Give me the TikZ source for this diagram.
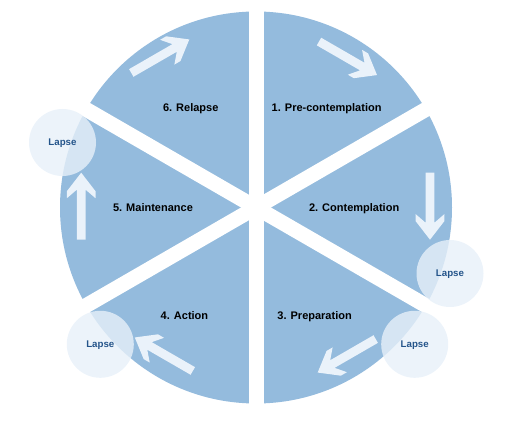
\documentclass[tikz,border=0pt]{standalone}
\usepackage{fontspec}
\setmainfont{Liberation Sans}
\definecolor{sectorc}{RGB}{148,187,221}
\definecolor{flowc}{RGB}{234,242,250}
\definecolor{lapsefill}{RGB}{231,240,249}
\definecolor{lapsetext}{RGB}{36,84,138}
\begin{document}
\begin{tikzpicture}[x=1pt,y=-1pt,
  stage/.style={anchor=base west, inner sep=0pt, font=\fontsize{11}{13}\selectfont\bfseries, text=black},
  lapse/.style={circle, minimum size=67pt, inner sep=0pt, text depth=0pt, fill=lapsefill, fill opacity=0.8, text opacity=1, text=lapsetext, font=\fontsize{9.7}{11}\selectfont\bfseries},
  gapline/.style={draw=white, line width=15pt},
  flow/.pic={\fill[flowc] (-33.5,-4.4) -- (16.5,-4.4) -- (8,-14.3) -- (15,-14.3) -- (33.5,0) -- (15,14.3) -- (8,14.3) -- (16.5,4.4) -- (-33.5,4.4) -- cycle;}
]
\useasboundingbox (0,0) rectangle (512,425);
% wheel
\coordinate (c) at (256,207.5);
\fill[sectorc] (c) circle[radius=196pt];
% gaps between the six sectors
\draw[gapline] (256,-20) -- (256,440);
\draw[gapline] (446.5,97.5) -- (65.5,317.5);
\draw[gapline] (446.5,317.5) -- (65.5,97.5);
% flow arrows
\pic[rotate=30] at (160.3,56.2) {flow};
\pic[rotate=-30] at (348,58.3) {flow};
\pic[rotate=-90] at (430,206.2) {flow};
\pic[rotate=-150] at (346.7,355.8) {flow};
\pic[rotate=150] at (163.8,354.2) {flow};
\pic[rotate=90] at (81.2,206.2) {flow};
% stage labels
\node[stage] (s1) at (271.5,112) {1. Pre-contemplation};
\node[stage] (s2) at (308.8,211.2) {2. Contemplation};
\node[stage] (s3) at (277.2,319.7) {3. Preparation};
\node[stage] (s4) at (160.5,319.7) {4. Action};
\node[stage] (s5) at (112.8,211.2) {5. Maintenance};
\node[stage] (s6) at (162.8,112) {6. Relapse};
% lapse circles
\node[lapse] (l1) at (62.5,142.5) {Lapse};
\node[lapse] (l2) at (450,273.5) {Lapse};
\node[lapse] (l3) at (414.7,344.3) {Lapse};
\node[lapse] (l4) at (100.3,344.3) {Lapse};
\end{tikzpicture}
\end{document}
